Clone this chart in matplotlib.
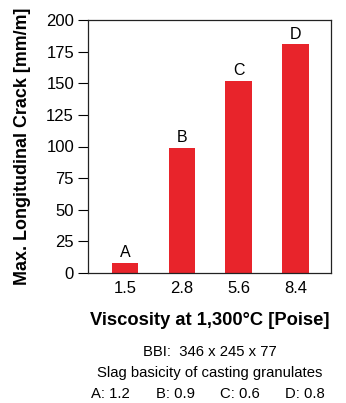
import matplotlib.pyplot as plt

plt.rcParams['font.family'] = ['Liberation Sans', 'DejaVu Sans']

# Data
viscosity = ['1.5', '2.8', '5.6', '8.4']
crack = [8, 99, 152, 181]
bar_labels = ['A', 'B', 'C', 'D']
basicity = ['A: 1.2', 'B: 0.9', 'C: 0.6', 'D: 0.8']

red = '#e8242b'

fig = plt.figure(figsize=(3.46, 4.03), dpi=100)
ax = fig.add_axes([88 / 346, 1 - 273 / 403, 243 / 346, 253 / 403])

x = range(len(viscosity))
bars = ax.bar(x, crack, width=0.47, color=red)
for b, lab in zip(bars, bar_labels):
    ax.text(b.get_x() + b.get_width() / 2, b.get_height() + 2, lab,
            ha='center', va='bottom', fontsize=11.5)

ax.set_xlim(-0.65, 3.62)
ax.set_ylim(0, 200)
ax.set_yticks(range(0, 201, 25))
ax.set_xticks(list(x))
ax.set_xticklabels(viscosity)
ax.tick_params(axis='x', length=0, labelsize=12, pad=6)
ax.tick_params(axis='y', length=7, width=0.8, labelsize=12, direction='out', pad=3)
for s in ax.spines.values():
    s.set_color('#222222')
    s.set_linewidth(0.9)

ax.set_ylabel('Max. Longitudinal Crack [mm/m]', fontsize=12.9, fontweight='bold', labelpad=11)
ax.set_xlabel('Viscosity at 1,300°C [Poise]', fontsize=13.2, fontweight='bold', labelpad=11)

cx = (88 + 331) / 2 / 346
fig.text(cx, 1 - 352 / 403, 'BBI:  346 x 245 x 77', ha='center', va='center', fontsize=10.7)
fig.text(cx, 1 - 373 / 403, 'Slag basicity of casting granulates', ha='center', va='center', fontsize=10.7)
for i, t in enumerate(basicity):
    fig.text((110 + 65 * i) / 346, 1 - 394 / 403, t, ha='center', va='center', fontsize=10.7)

fig.savefig('out.png', dpi=100)
